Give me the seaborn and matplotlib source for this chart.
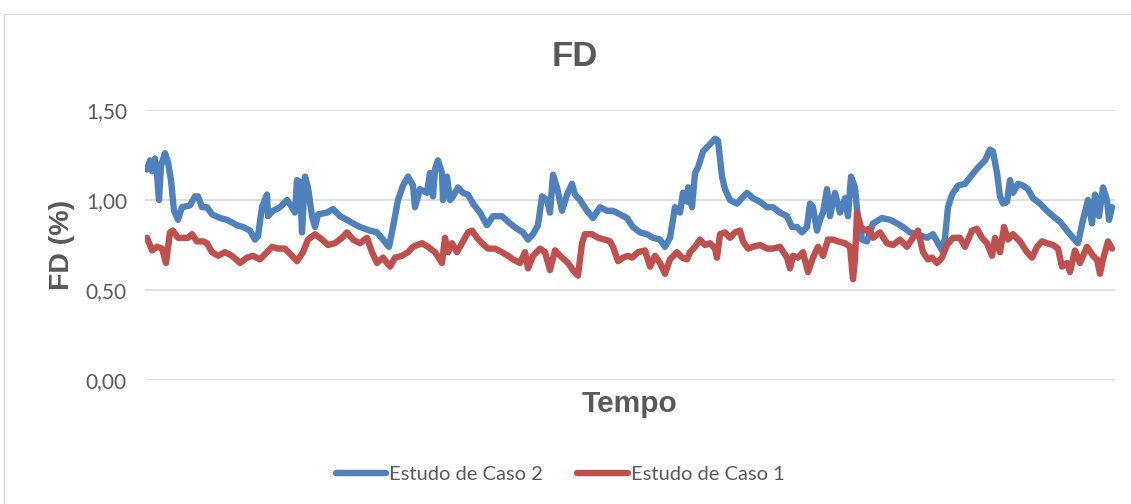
import matplotlib
matplotlib.use("Agg")
import matplotlib.pyplot as plt
from matplotlib.patches import Rectangle
from matplotlib.lines import Line2D
from matplotlib.ticker import FuncFormatter
import seaborn as sns
import pandas as pd

# Série "Estudo de Caso 2": instante (amostra) e FD (%)
tempo_caso2 = [0, 3, 5, 8, 10, 12, 14, 18, 21, 24,
               27, 31, 35, 43, 48, 51, 55, 60, 65, 73,
               80, 90, 96, 103, 108, 111, 115, 120, 121, 126,
               133, 140, 145, 148, 150, 153, 155, 158, 161, 165,
               168, 171, 180, 186, 193, 200, 206, 213, 223, 230,
               236, 242, 246, 251, 256, 261, 266, 268, 273, 280,
               283, 286, 288, 291, 295, 296, 300, 303, 306, 311,
               316, 321, 326, 333, 340, 346, 355, 363, 370, 376,
               381, 386, 391, 395, 400, 403, 406, 410, 415, 420,
               425, 428, 433, 440, 446, 453, 460, 466, 473, 480,
               486, 493, 500, 506, 513, 518, 523, 528, 533, 536,
               540, 541, 545, 548, 551, 556, 563, 568, 571, 575,
               578, 583, 590, 595, 600, 606, 613, 620, 626, 633,
               640, 645, 650, 655, 660, 663, 666, 670, 673, 676,
               680, 683, 688, 693, 698, 701, 704, 708, 711, 715,
               720, 726, 735, 743, 750, 756, 763, 770, 780, 786,
               791, 795, 798, 801, 805, 811, 818, 825, 831, 838,
               843, 846, 850, 853, 856, 860, 863, 866, 871, 876,
               881, 886, 893, 900, 906, 913, 920, 926, 931, 936,
               941, 945, 948, 952, 956, 960, 962, 965]
fd_caso2 = [1.17, 1.22, 1.16, 1.23, 1.14, 1.00, 1.19, 1.26, 1.21, 1.11,
            0.94, 0.89, 0.96, 0.97, 1.02, 1.02, 0.96, 0.96, 0.92, 0.90,
            0.89, 0.86, 0.85, 0.83, 0.78, 0.80, 0.96, 1.03, 0.91, 0.94,
            0.96, 1.00, 0.96, 0.93, 1.11, 1.10, 0.82, 1.13, 1.07, 0.91,
            0.85, 0.92, 0.93, 0.95, 0.91, 0.89, 0.87, 0.85, 0.83, 0.82,
            0.78, 0.74, 0.85, 1.00, 1.08, 1.13, 1.08, 0.96, 1.06, 1.04,
            1.15, 1.02, 1.17, 1.22, 1.15, 1.00, 1.13, 1.00, 1.02, 1.07,
            1.04, 1.03, 0.98, 0.93, 0.86, 0.91, 0.91, 0.87, 0.84, 0.82,
            0.78, 0.81, 0.86, 1.02, 1.00, 0.93, 1.14, 1.07, 0.94, 1.03,
            1.09, 1.03, 1.00, 0.94, 0.90, 0.96, 0.94, 0.94, 0.92, 0.90,
            0.85, 0.82, 0.81, 0.79, 0.78, 0.74, 0.79, 0.96, 0.93, 1.04,
            0.99, 1.07, 0.96, 1.15, 1.18, 1.27, 1.31, 1.34, 1.33, 1.13,
            1.06, 1.00, 0.98, 1.01, 1.04, 1.01, 0.99, 0.96, 0.96, 0.93,
            0.91, 0.85, 0.85, 0.82, 0.85, 0.98, 0.96, 0.83, 0.89, 0.93,
            1.06, 0.91, 1.04, 0.93, 1.01, 0.91, 1.13, 1.07, 0.89, 0.78,
            0.77, 0.87, 0.90, 0.89, 0.87, 0.85, 0.82, 0.81, 0.79, 0.81,
            0.76, 0.72, 0.79, 0.96, 1.03, 1.08, 1.09, 1.14, 1.18, 1.22,
            1.28, 1.27, 1.15, 1.02, 0.98, 0.99, 1.11, 1.04, 1.09, 1.08,
            1.06, 1.01, 0.98, 0.94, 0.91, 0.88, 0.83, 0.79, 0.76, 0.89,
            1.00, 0.87, 1.03, 0.91, 1.07, 1.00, 0.89, 0.96]

# Série "Estudo de Caso 1": instante (amostra) e FD (%)
tempo_caso1 = [0, 5, 10, 15, 19, 23, 26, 31, 36, 41,
               45, 50, 56, 60, 65, 71, 78, 85, 93, 100,
               106, 113, 120, 125, 131, 138, 145, 150, 156, 161,
               168, 175, 181, 188, 195, 200, 206, 213, 220, 225,
               230, 236, 240, 243, 248, 255, 261, 266, 275, 281,
               288, 295, 298, 301, 305, 310, 315, 321, 325, 330,
               335, 341, 348, 355, 361, 366, 373, 378, 381, 386,
               393, 398, 403, 408, 415, 421, 426, 431, 435, 438,
               445, 451, 458, 463, 466, 471, 476, 481, 485, 491,
               498, 503, 508, 513, 518, 523, 530, 535, 540, 543,
               548, 553, 558, 563, 568, 570, 573, 578, 583, 588,
               593, 596, 601, 606, 613, 620, 626, 633, 640, 643,
               646, 651, 656, 661, 666, 671, 676, 681, 686, 691,
               698, 703, 706, 708, 710, 714, 718, 722, 726, 733,
               740, 746, 753, 760, 766, 771, 776, 781, 785, 790,
               795, 800, 806, 813, 818, 825, 830, 835, 840, 845,
               848, 853, 857, 861, 866, 873, 880, 885, 890, 895,
               900, 906, 911, 915, 920, 923, 928, 933, 940, 946,
               950, 953, 956, 961, 965]
fd_caso1 = [0.79, 0.72, 0.74, 0.73, 0.65, 0.82, 0.83, 0.79, 0.79, 0.79,
            0.81, 0.77, 0.77, 0.76, 0.71, 0.69, 0.71, 0.69, 0.65, 0.68,
            0.69, 0.67, 0.71, 0.74, 0.73, 0.73, 0.69, 0.66, 0.71, 0.78,
            0.81, 0.78, 0.75, 0.76, 0.79, 0.82, 0.78, 0.76, 0.79, 0.71,
            0.65, 0.68, 0.65, 0.63, 0.68, 0.69, 0.71, 0.74, 0.76, 0.74,
            0.71, 0.65, 0.79, 0.71, 0.76, 0.71, 0.76, 0.82, 0.83, 0.79,
            0.76, 0.73, 0.73, 0.71, 0.69, 0.67, 0.65, 0.71, 0.62, 0.69,
            0.73, 0.71, 0.61, 0.72, 0.68, 0.65, 0.61, 0.58, 0.76, 0.81,
            0.81, 0.79, 0.78, 0.77, 0.74, 0.66, 0.68, 0.69, 0.68, 0.71,
            0.72, 0.63, 0.69, 0.65, 0.59, 0.67, 0.71, 0.68, 0.67, 0.71,
            0.74, 0.78, 0.75, 0.76, 0.73, 0.68, 0.81, 0.82, 0.79, 0.82,
            0.83, 0.77, 0.73, 0.74, 0.75, 0.73, 0.73, 0.74, 0.68, 0.62,
            0.69, 0.68, 0.71, 0.60, 0.68, 0.74, 0.69, 0.78, 0.78, 0.77,
            0.76, 0.74, 0.56, 0.67, 0.93, 0.85, 0.83, 0.84, 0.79, 0.82,
            0.76, 0.75, 0.78, 0.74, 0.79, 0.83, 0.71, 0.67, 0.68, 0.65,
            0.68, 0.75, 0.79, 0.79, 0.74, 0.83, 0.84, 0.79, 0.76, 0.69,
            0.79, 0.71, 0.85, 0.78, 0.81, 0.77, 0.71, 0.68, 0.74, 0.77,
            0.76, 0.75, 0.73, 0.63, 0.65, 0.60, 0.72, 0.65, 0.74, 0.69,
            0.67, 0.59, 0.67, 0.77, 0.73]

series_names = ["Estudo de Caso 2", "Estudo de Caso 1"]
series_colors = ["#4F81BD", "#C0504D"]
y_ticks = [0.0, 0.5, 1.0, 1.5]

df = pd.concat([
    pd.DataFrame({"Tempo": tempo_caso2, "FD": fd_caso2, "Série": series_names[0]}),
    pd.DataFrame({"Tempo": tempo_caso1, "FD": fd_caso1, "Série": series_names[1]}),
], ignore_index=True)

sns.set_theme(style="white")
plt.rcParams["font.family"] = ["Lato", "DejaVu Sans"]

W, H = 1131, 504
fig = plt.figure(figsize=(W / 100, H / 100), dpi=100)
ax = fig.add_axes([145 / W, 1 - 380 / H, (1115 - 145) / W, (380 - 110) / H])

# moldura do gráfico
fig.patches.append(Rectangle((4 / W, -0.05), 1.2, 1 - 14 / H + 0.05,
                             transform=fig.transFigure, fill=False,
                             edgecolor="#D9D9D9", linewidth=1.0, zorder=0))

sns.lineplot(data=df, x="Tempo", y="FD", hue="Série", hue_order=series_names,
             palette=series_colors, estimator=None, sort=False, linewidth=4.6,
             legend=False, ax=ax)
for ln in ax.lines:
    ln.set_solid_joinstyle("round")
    ln.set_solid_capstyle("round")

ax.set_xlim(-2, 968)
ax.set_ylim(0, 1.5)
ax.set_yticks(y_ticks)
ax.yaxis.set_major_formatter(FuncFormatter(lambda v, p: f"{v:.2f}".replace(".", ",")))
ax.set_xticks([])
ax.tick_params(axis="y", length=0, pad=13, labelsize=15, labelcolor="#595959")
ax.grid(axis="y", color="#D9D9D9", linewidth=1.2)
ax.set_axisbelow(True)
for s in ax.spines.values():
    s.set_visible(False)

bold = ["Liberation Sans", "DejaVu Sans"]
ax.set_xlabel("Tempo", fontsize=21.5, fontweight="bold", color="#595959",
              family=bold, labelpad=7)
ax.set_ylabel("FD (%)", fontsize=20.5, fontweight="bold", color="#595959",
              family=bold, labelpad=8)
fig.text(575 / W, 1 - 57 / H, "FD", ha="center", va="center", fontsize=25,
         fontweight="bold", color="#595959", family=bold)

handles = [Line2D([], [], color=c, linewidth=4.6, solid_capstyle="round")
           for c in series_colors]
fig.legend(handles, series_names, loc="center", bbox_to_anchor=(560 / W, 1 - 474 / H),
           ncol=2, frameon=False, fontsize=14.5, handlelength=2.5, handletextpad=0.15,
           columnspacing=1.7, labelcolor="#595959")

fig.savefig("out.png", dpi=100, facecolor="white")
